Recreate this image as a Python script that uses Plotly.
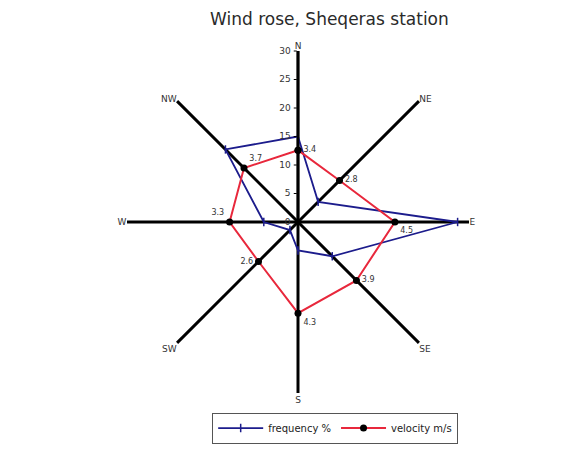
import plotly.graph_objects as go

directions = ["N", "NE", "E", "SE", "S", "SW", "W", "NW"]
frequency_pct = [15, 5, 28, 8.5, 5, 2, 6, 18]
velocity_plot = [12.6, 10.3, 17.0, 14.5, 16.0, 9.8, 12.0, 13.4]
velocity_labels = ["3.4", "2.8", "4.5", "3.9", "4.3", "2.6", "3.3", "3.7"]
label_positions = ["middle right", "middle right", "bottom right", "middle right",
                   "bottom right", "middle left", "top left", "top right"]
radial_ticks = [0, 5, 10, 15, 20, 25, 30]

theta_closed = directions + directions[:1]

fig = go.Figure()
fig.add_trace(go.Scatterpolar(
    r=frequency_pct + frequency_pct[:1], theta=theta_closed,
    mode="lines+markers", name="frequency %",
    line=dict(color="#1c1c8c", width=1.8),
    marker=dict(color="#1c1c8c", size=6, symbol="line-ns-open", line=dict(width=1.5, color="#1c1c8c")),
))
fig.add_trace(go.Scatterpolar(
    r=velocity_plot + velocity_plot[:1], theta=theta_closed,
    mode="lines+markers+text", name="velocity m/s",
    text=velocity_labels + [""],
    textposition=label_positions + ["middle right"],
    textfont=dict(size=8, color="#333333"),
    line=dict(color="#e8283c", width=2),
    marker=dict(color="black", size=7),
))

W, H = 574, 449
R = 171
cx, cy = 290, H - 214
fig.update_layout(
    width=W, height=H,
    margin=dict(l=0, r=0, t=0, b=0),
    paper_bgcolor="white",
    font=dict(family="DejaVu Sans, Liberation Sans, Arial", color="#222222"),
    title=dict(text="Wind rose, Sheqeras station", x=0.56, xanchor="center",
               y=0.975, yanchor="middle",
               font=dict(size=17, color="#2a2a2a")),
    polar=dict(
        domain=dict(x=[(cx - R) / W, (cx + R) / W], y=[(cy - R) / H, (cy + R) / H]),
        bgcolor="white",
        angularaxis=dict(
            direction="clockwise", rotation=90,
            categoryorder="array", categoryarray=directions,
            showline=False, ticks="", gridcolor="black", gridwidth=2.5,
            tickfont=dict(size=9, color="#333333"),
        ),
        radialaxis=dict(
            range=[0, 30], angle=90, tickangle=90, side="counterclockwise",
            tickvals=radial_ticks, ticktext=[str(v) for v in radial_ticks],
            showgrid=False, showline=True, linecolor="black", linewidth=2.5,
            ticks="outside", ticklen=3, tickcolor="black",
            tickfont=dict(size=9, color="#333333"),
        ),
    ),
    legend=dict(
        orientation="h", x=0.57, xanchor="center", y=0.03, yanchor="bottom",
        bordercolor="#555555", borderwidth=1, font=dict(size=10),
        itemwidth=45,
    ),
)

fig.write_html("out.html")
